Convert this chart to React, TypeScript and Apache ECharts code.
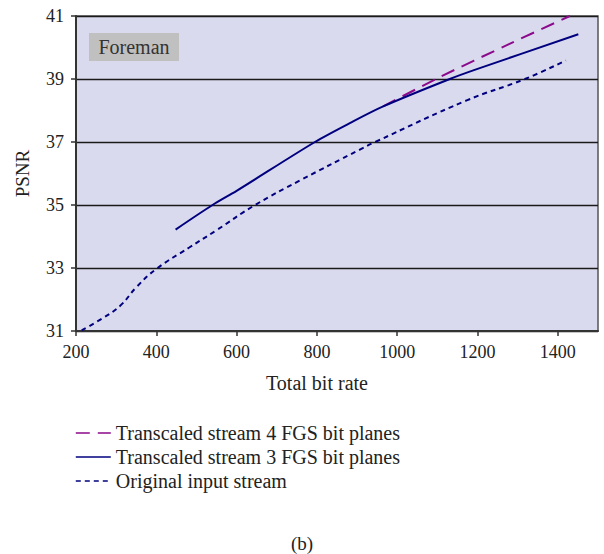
import React, { useEffect, useRef } from "react";
import * as echarts from "echarts";

const xTicks = [200, 400, 600, 800, 1000, 1200, 1400];
const yTicks = [31, 33, 35, 37, 39, 41];

const seriesNames = [
  "Transcaled stream 4 FGS bit planes",
  "Transcaled stream 3 FGS bit planes",
  "Original input stream",
];

const fgs4Rate = [965, 1106, 1277, 1430];
const fgs4Psnr = [38.13, 39.06, 40.1, 41.0];

const fgs3Rate = [448, 540, 600, 795, 882, 965, 1131, 1200, 1451];
const fgs3Psnr = [34.22, 35.0, 35.45, 37.0, 37.6, 38.13, 39.0, 39.32, 40.42];

const origRate = [214, 268, 310, 351, 401, 482, 550, 646, 758, 907, 945, 1173, 1318, 1420];
const origPsnr = [31.02, 31.42, 31.8, 32.4, 32.98, 33.65, 34.2, 35.0, 35.78, 36.76, 37.0, 38.32, 39.0, 39.59];

const zip = (a: number[], b: number[]) => a.map((v, i) => [v, b[i]]);

const FONT = "Liberation Serif";

export default function App() {
  const ref = useRef<HTMLDivElement>(null);
  useEffect(() => {
    if (!ref.current) return;
    const chart = echarts.init(ref.current, null, { renderer: "svg" });
    chart.setOption({
      animation: false,
      backgroundColor: "#ffffff",
      textStyle: { fontFamily: FONT },
      grid: {
        left: 76,
        top: 16,
        right: 6,
        bottom: 223,
        show: true,
        backgroundColor: "#DADAEE",
        borderColor: "#555555",
        borderWidth: 1.5,
      },
      xAxis: {
        type: "value",
        min: 200,
        max: 1500,
        interval: 200,
        name: "Total bit rate",
        nameLocation: "middle",
        nameGap: 42,
        nameTextStyle: { fontFamily: FONT, fontSize: 20, color: "#222", padding: [0, 40, 0, 0] },
        axisLine: { show: true, onZero: false, lineStyle: { color: "#333", width: 2 } },
        axisTick: { show: true, length: 5, lineStyle: { color: "#333", width: 1.5 } },
        axisLabel: {
          fontFamily: FONT,
          fontSize: 18,
          color: "#222",
          margin: 12,
          showMaxLabel: false,
          formatter: (v: number) => (xTicks.includes(v) ? String(v) : ""),
        },
        splitLine: { show: false },
      },
      yAxis: {
        type: "value",
        min: 31,
        max: 41,
        interval: 2,
        name: "PSNR",
        nameLocation: "middle",
        nameGap: 44,
        nameRotate: 90,
        nameTextStyle: { fontFamily: FONT, fontSize: 19, color: "#222" },
        axisLine: { show: true, onZero: false, lineStyle: { color: "#333", width: 2 } },
        axisTick: { show: true, length: 5, lineStyle: { color: "#333", width: 1.5 } },
        axisLabel: {
          fontFamily: FONT,
          fontSize: 18,
          color: "#222",
          margin: 12,
          formatter: (v: number) => (yTicks.includes(v) ? String(v) : ""),
        },
        splitLine: { show: true, lineStyle: { color: "#1a1a1a", width: 1.3 } },
      },
      legend: {
        orient: "vertical",
        left: 70,
        top: 418,
        itemWidth: 35,
        itemHeight: 12,
        itemGap: 4,
        itemStyle: { opacity: 0 },
        lineStyle: { width: 1.6 },
        textStyle: { fontFamily: FONT, fontSize: 20, color: "#222", padding: [0, 0, 0, 0] },
        data: seriesNames,
      },
      series: [
        {
          name: seriesNames[0],
          type: "line",
          data: zip(fgs4Rate, fgs4Psnr),
          showSymbol: false,
          symbol: "none",
          smooth: 0.3,
          lineStyle: { color: "#8B0A8B", width: 2, type: [14, 8] },
          itemStyle: { color: "#8B0A8B" },
          z: 3,
        },
        {
          name: seriesNames[1],
          type: "line",
          data: zip(fgs3Rate, fgs3Psnr),
          showSymbol: false,
          symbol: "none",
          smooth: 0.3,
          lineStyle: { color: "#00007F", width: 2, type: "solid" },
          itemStyle: { color: "#00007F" },
          z: 4,
        },
        {
          name: seriesNames[2],
          type: "line",
          data: zip(origRate, origPsnr),
          showSymbol: false,
          symbol: "none",
          smooth: 0.45,
          lineStyle: { color: "#00007F", width: 2, type: [5, 4] },
          itemStyle: { color: "#00007F" },
          z: 2,
        },
      ],
      graphic: [
        {
          type: "rect",
          shape: { x: 89, y: 33, width: 90, height: 28 },
          style: { fill: "#C0C0C0" },
          z: 10,
        },
        {
          type: "text",
          x: 134,
          y: 47,
          style: {
            text: "Foreman",
            fontFamily: FONT,
            fontSize: 20,
            fill: "#333",
            align: "center",
            verticalAlign: "middle",
          },
          z: 11,
        },
        {
          type: "text",
          x: 302,
          y: 543,
          style: {
            text: "(b)",
            fontFamily: FONT,
            fontSize: 19,
            fill: "#222",
            align: "center",
            verticalAlign: "middle",
          },
        },
      ],
    });
    return () => chart.dispose();
  }, []);
  return <div ref={ref} style={{ width: 604, height: 554, position: "absolute", left: 0, top: 0 }} />;
}
